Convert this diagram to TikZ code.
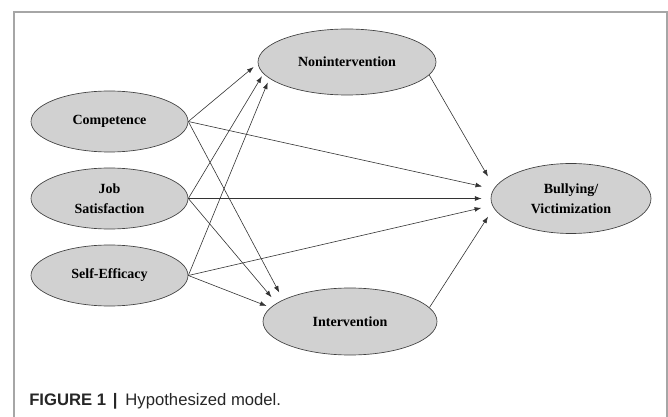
\documentclass[tikz,border=0pt]{standalone}
\usepackage{fontspec}
\setmainfont{Liberation Serif}
\newfontfamily\capfont{Liberation Sans}
\usetikzlibrary{shapes.geometric,arrows.meta}

\begin{document}
\begin{tikzpicture}[x=.75pt,y=-.75pt,>={Latex[length=5pt,width=3.6pt]},
latent/.style={ellipse,draw=black!75,fill=black!18,line width=.5pt,inner sep=0pt,
  align=center,font=\fontsize{10.5}{15}\selectfont\bfseries},
arr/.style={->,draw=black!80,line width=.45pt}]
\useasboundingbox (0,0) rectangle (668,417);
\draw[black!35,line width=.8pt] (14,417)--(14,12)--(667,12)--(667,417);
% predictors
\node[latent,minimum width=117.75pt,minimum height=45.75pt] (comp) at (109.5,121.5) {Competence};
\node[latent,minimum width=117.75pt,minimum height=45.75pt] (jobsat) at (109.5,198.5) {Job\\Satisfaction};
\node[latent,minimum width=117.75pt,minimum height=45.75pt] (selfeff) at (109.5,275.5) {Self-Efficacy};
% mediators and outcome
\node[latent,minimum width=133.5pt,minimum height=49.5pt] (nonint) at (347,62) {Nonintervention};
\node[latent,minimum width=130.5pt,minimum height=50.25pt] (interv) at (350,321.5) {Intervention};
\node[latent,minimum width=120pt,minimum height=52.5pt] (bully) at (571,198.5) {Bullying/\\Victimization};
% paths
\draw[arr,shorten >=4pt] (comp.east)--(nonint.181);
\draw[arr,shorten >=2.2pt] (jobsat.east)--(nonint.188);
\draw[arr,shorten >=3.2pt] (selfeff.east)--(nonint.192.6);
\draw[arr,shorten >=6.1pt] (comp.east)--(interv.162.4);
\draw[arr,shorten >=5.8pt] (jobsat.east)--(interv.166.6);
\draw[arr,shorten >=3.2pt] (selfeff.east)--(interv.170);
\draw[arr,shorten >=8.8pt] (comp.east)--(bully.173.7);
\draw[arr,shorten >=6.8pt] (jobsat.east)--(bully.west);
\draw[arr,shorten >=8.4pt] (selfeff.east)--(bully.185.5);
\draw[arr,shorten >=9.7pt] (nonint.351.4)--(bully.172.9);
\draw[arr,shorten >=7.7pt] (interv.10.8)--(bully.187.7);
\node[anchor=base west,inner sep=0pt,text=black!85,font=\capfont\fontsize{12.5}{15}\selectfont]
  (cap) at (29,405) {\textbf{FIGURE 1}\hspace{5pt}\textbf{|}\hspace{6pt}Hypothesized model.};
\end{tikzpicture}
\end{document}
